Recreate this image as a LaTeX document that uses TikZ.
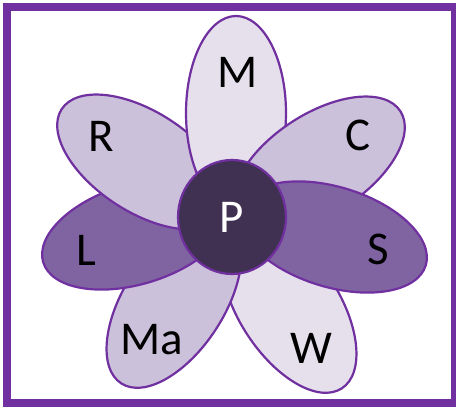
\documentclass[tikz,border=0pt]{standalone}
\usepackage{fontspec}
\setmainfont{Carlito}
\usepackage{xcolor}
\definecolor{bloom}{RGB}{112,48,160}
\definecolor{palelilac}{RGB}{229,224,236}
\definecolor{lilac}{RGB}{204,193,218}
\definecolor{violet}{RGB}{128,100,162}
\definecolor{plum}{RGB}{64,49,82}

\begin{document}
\begin{tikzpicture}[x=1pt, y=1pt,
  petal/.style={draw=bloom, line width=2.2pt},
  pale/.style={petal, fill=palelilac},
  mid/.style={petal, fill=lilac},
  deep/.style={petal, fill=violet},
  lbl/.style={font=\fontsize{47}{47}\selectfont, inner sep=0pt}
]
  \useasboundingbox (0,0) rectangle (456,408);
  % frame
  \draw[bloom, line width=8pt] (7,5) rectangle (455,401);

  % petal centres
  \coordinate (mc) at (236,295);
  \coordinate (cc) at (319,244);
  \coordinate (sc) at (333,171);
  \coordinate (wc) at (289,101);
  \coordinate (mac) at (174,106);
  \coordinate (lc) at (136,174);
  \coordinate (rc) at (143,246);

  % petals, back to front
  \draw[pale, rotate around={-57:(wc)}] (wc) ellipse [x radius=97, y radius=50];
  \draw[mid, rotate around={57:(mac)}] (mac) ellipse [x radius=97, y radius=50];
  \draw[deep, rotate around={17:(lc)}] (lc) ellipse [x radius=97, y radius=50];
  \draw[mid, rotate around={-33:(rc)}] (rc) ellipse [x radius=97, y radius=50];
  \draw[pale, rotate around={90:(mc)}] (mc) ellipse [x radius=97, y radius=50];
  \draw[mid, rotate around={33:(cc)}] (cc) ellipse [x radius=97, y radius=50];
  \draw[deep, rotate around={-17:(sc)}] (sc) ellipse [x radius=97, y radius=50];

  % centre
  \draw[petal, fill=plum] (232,191) ellipse [x radius=54, y radius=57];
  \node[lbl, text=white] (p) at (232,191) {P};

  % petal labels
  \node[lbl] (m) at (238,336) {M};
  \node[lbl] (c) at (358,273) {C};
  \node[lbl] (s) at (378,159) {S};
  \node[lbl] (w) at (311,60) {W};
  \node[lbl] (ma) at (152,68) {Ma};
  \node[lbl] (l) at (86,158) {L};
  \node[lbl] (r) at (101,272) {R};
\end{tikzpicture}
\end{document}
